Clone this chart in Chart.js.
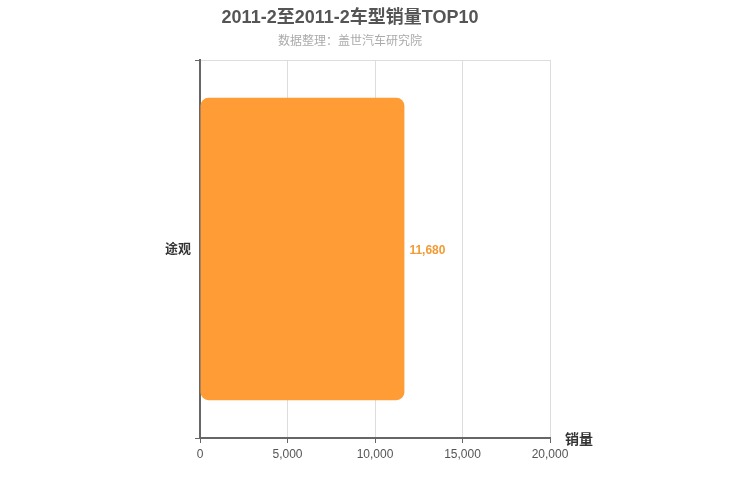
<!DOCTYPE html>
<html>
<head>
  <title>车型销量TOP10</title>
  <script src="https://cdn.jsdelivr.net/npm/chart.js"></script>
  <style>
    body { margin: 0; background: #fff; }
    canvas { display: block; }
  </style>
</head>
<body>
  <canvas id="chart" width="750" height="500"></canvas>

  <script>
    // 车型和销量
    var models = ["途观"];
    var sales = [11680];
    var xTicks = [0, 5000, 10000, 15000, 20000];

    var FONT = "'Liberation Sans', 'Noto Sans CJK SC', sans-serif";

    // 柱子末端的数值 + 坐标轴名称
    var labelPlugin = {
      id: "labels",
      afterDatasetsDraw: function (chart) {
        var ctx = chart.ctx;
        var meta = chart.getDatasetMeta(0);
        ctx.save();
        ctx.font = "bold 12px " + FONT;
        ctx.fillStyle = "#f39a34";
        ctx.textAlign = "left";
        ctx.textBaseline = "middle";
        meta.data.forEach(function (bar, i) {
          ctx.fillText(sales[i].toLocaleString("en-US"), bar.x + 5, bar.y + 2);
        });
        var area = chart.chartArea;
        ctx.font = "bold 14px " + FONT;
        ctx.fillStyle = "#333";
        ctx.textBaseline = "bottom";
        ctx.fillText("销量", area.right + 15, area.bottom + 9);
        ctx.restore();
      }
    };

    var ctx = document.getElementById("chart").getContext("2d");
    var chart = new Chart(ctx, {
      type: "bar",
      data: {
        labels: models,
        datasets: [{
          data: sales,
          backgroundColor: "#ff9c35",
          borderRadius: 8,
          borderSkipped: false,
          categoryPercentage: 1,
          barPercentage: 0.8
        }]
      },
      options: {
        indexAxis: "y",
        responsive: false,
        maintainAspectRatio: false,
        animation: false,
        devicePixelRatio: 1,
        layout: { padding: { left: 150, right: 200, top: 0, bottom: 32 } },
        plugins: {
          legend: { display: false },
          tooltip: { enabled: false },
          title: {
            display: true,
            text: "2011-2至2011-2车型销量TOP10",
            color: "#555",
            font: { family: FONT, size: 18, weight: "bold" },
            padding: { top: 7, bottom: 6 }
          },
          subtitle: {
            display: true,
            text: "数据整理：盖世汽车研究院",
            color: "#aaa",
            font: { family: FONT, size: 12 },
            padding: { top: 0, bottom: 11 }
          }
        },
        scales: {
          x: {
            min: 0,
            max: 20000,
            afterBuildTicks: function (scale) {
              scale.ticks = xTicks.map(function (v) { return { value: v }; });
            },
            afterFit: function (scale) { scale.height = 30; },
            border: { color: "#666", width: 2 },
            grid: { color: "#ddd", tickColor: "#666", tickLength: 5 },
            ticks: {
              color: "#555",
              font: { family: FONT, size: 12 },
              padding: 4,
              callback: function (v) { return v.toLocaleString("en-US"); }
            }
          },
          y: {
            afterFit: function (scale) { scale.width = 50; },
            border: { color: "#666", width: 2 },
            grid: { color: "#ddd", tickColor: "#666", tickLength: 5 },
            ticks: {
              color: "#333",
              font: { family: FONT, size: 13, weight: "bold" },
              padding: 4
            }
          }
        }
      },
      plugins: [labelPlugin]
    });
  </script>
</body>
</html>
